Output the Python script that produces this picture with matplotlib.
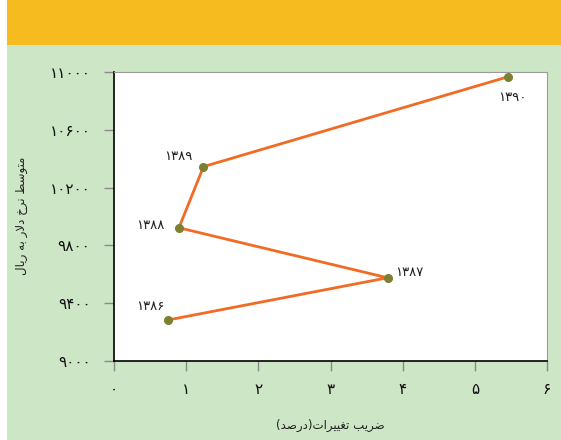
import matplotlib
matplotlib.use("Agg")
import matplotlib.pyplot as plt
from matplotlib.patches import Rectangle

# ---------------- data ----------------
years = ["۱۳۸۶", "۱۳۸۷", "۱۳۸۸", "۱۳۸۹", "۱۳۹۰"]
cv_percent = [0.75, 3.79, 0.90, 1.24, 5.46]
dollar_rate = [9284, 9576, 9922, 10345, 10967]

x_ticks = [0, 1, 2, 3, 4, 5, 6]
x_tick_labels = ["۰", "۱", "۲", "۳", "۴", "۵", "۶"]
y_ticks = [9000, 9400, 9800, 10200, 10600, 11000]
y_tick_labels = ["۹۰۰۰", "۹۴۰۰", "۹۸۰۰", "۱۰۲۰۰", "۱۰۶۰۰", "۱۱۰۰۰"]

x_label = "ضریب تغییرات(درصد)"
y_label = "متوسط نرخ دلار به ریال"

# label offsets (pixels) for each point label
label_offsets = [(-18, 13), (22, 5), (-29, 2), (-25, 10), (4, -21)]

# ------------- minimal Arabic/Persian shaping for display -------------
FORMS = {
    'ا': ('\uFE8D', '\uFE8E', None, None),
    'ب': ('\uFE8F', '\uFE90', '\uFE91', '\uFE92'),
    'ت': ('\uFE95', '\uFE96', '\uFE97', '\uFE98'),
    'خ': ('\uFEA5', '\uFEA6', '\uFEA7', '\uFEA8'),
    'د': ('\uFEA9', '\uFEAA', None, None),
    'ر': ('\uFEAD', '\uFEAE', None, None),
    'س': ('\uFEB1', '\uFEB2', '\uFEB3', '\uFEB4'),
    'ص': ('\uFEB9', '\uFEBA', '\uFEBB', '\uFEBC'),
    'ض': ('\uFEBD', '\uFEBE', '\uFEBF', '\uFEC0'),
    'ط': ('\uFEC1', '\uFEC2', '\uFEC3', '\uFEC4'),
    'غ': ('\uFECD', '\uFECE', '\uFECF', '\uFED0'),
    'ل': ('\uFEDD', '\uFEDE', '\uFEDF', '\uFEE0'),
    'م': ('\uFEE1', '\uFEE2', '\uFEE3', '\uFEE4'),
    'ن': ('\uFEE5', '\uFEE6', '\uFEE7', '\uFEE8'),
    'ه': ('\uFEE9', '\uFEEA', '\uFEEB', '\uFEEC'),
    'و': ('\uFEED', '\uFEEE', None, None),
    'ی': ('\uFBFC', '\uFBFD', '\uFBFE', '\uFBFF'),
}
DUAL = {c for c, f in FORMS.items() if f[2] is not None}


def shape_rtl(s):
    chars = list(s)
    n = len(chars)
    res = []
    i = 0
    while i < n:
        c = chars[i]
        prev_c = chars[i - 1] if i > 0 else None
        if c == 'ل' and i + 1 < n and chars[i + 1] == 'ا':
            res.append('\uFEFC' if prev_c in DUAL else '\uFEFB')
            i += 2
            continue
        if c in FORMS:
            nxt = chars[i + 1] if i + 1 < n else None
            cp = prev_c in DUAL
            cn = c in DUAL and nxt in FORMS
            f = FORMS[c]
            if cp and cn:
                res.append(f[3])
            elif cp:
                res.append(f[1])
            elif cn:
                res.append(f[2])
            else:
                res.append(f[0])
        else:
            res.append(c)
        i += 1
    vis = ''.join(reversed(res))
    return vis.translate(str.maketrans({'(': ')', ')': '('}))


# ---------------- figure ----------------
plt.rcParams['font.family'] = ['DejaVu Sans']
fig = plt.figure(figsize=(5.61, 4.40), dpi=100)
fig.patch.set_facecolor('white')

# background layer axes
bg = fig.add_axes([0, 0, 1, 1])
bg.set_xlim(0, 561)
bg.set_ylim(440, 0)
bg.axis('off')
bg.set_zorder(0)
bg.add_patch(Rectangle((7, 0), 554, 440, facecolor='#CDE6C5', edgecolor='none'))
bg.add_patch(Rectangle((7, 0), 554, 45, facecolor='#F6BB1E', edgecolor='none'))

ax = fig.add_axes([114 / 561, 1 - 361 / 440, (547 - 114) / 561, (361 - 72) / 440])
ax.set_zorder(2)
ax.set_facecolor('white')

ax.plot(cv_percent, dollar_rate, color='#F26B24', linewidth=2, zorder=2)
ax.plot(cv_percent, dollar_rate, linestyle='none', marker='o', markersize=5.5,
        color='#7C8030', zorder=3)

for xv, yv, lab, (dx, dy) in zip(cv_percent, dollar_rate, years, label_offsets):
    ax.annotate(lab, (xv, yv), xytext=(dx, dy), textcoords='offset pixels',
                ha='center', va='center', fontsize=9.5, color='#222222')

ax.set_xlim(0, 6)
ax.set_ylim(9000, 11000)
ax.set_xticks(x_ticks)
ax.set_xticklabels(x_tick_labels, fontsize=11)
ax.set_yticks(y_ticks)
ax.set_yticklabels(y_tick_labels, fontsize=11)
ax.tick_params(axis='both', direction='out', length=7, width=1, color='#8a8a8a',
               labelcolor='#111111')
ax.tick_params(axis='y', pad=10)
ax.tick_params(axis='x', pad=8)

for side in ('left', 'bottom'):
    ax.spines[side].set_color('black')
    ax.spines[side].set_linewidth(1.2)
for side in ('top', 'right'):
    ax.spines[side].set_color('#9a9a9a')
    ax.spines[side].set_linewidth(0.8)

bg.text(22, 216, shape_rtl(y_label), rotation=90,
        ha='center', va='center', fontsize=8.5, color='#222222')
bg.text(330, 425, shape_rtl(x_label),
        ha='center', va='center', fontsize=8.5, color='#222222')

fig.savefig('out.png', dpi=100, facecolor=fig.get_facecolor())
